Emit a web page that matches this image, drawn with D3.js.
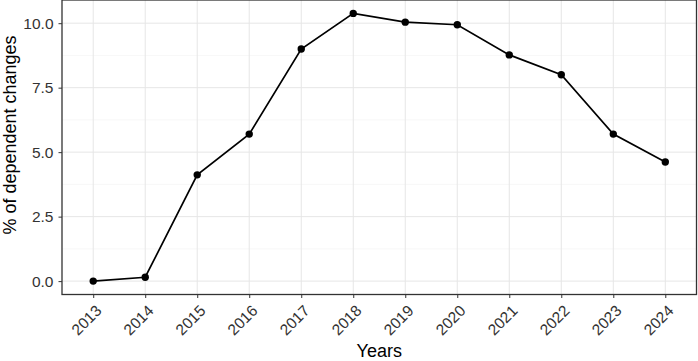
<!DOCTYPE html>
<html>
<head>
<meta charset="utf-8">
<script src="https://cdn.jsdelivr.net/npm/d3@7"></script>
<style>
  body { margin: 0; background: #fff; }
  svg { display: block; font-family: "Liberation Sans", Arial, sans-serif; }
</style>
</head>
<body>
<div id="chart"></div>
<script>
const years = ["2013", "2014", "2015", "2016", "2017", "2018", "2019", "2020", "2021", "2022", "2023", "2024"];
const pctDependent = [0, 0.15, 4.12, 5.7, 9.0, 10.38, 10.04, 9.94, 8.77, 8.0, 5.7, 4.62];
const yTicks = [0, 2.5, 5, 7.5, 10];
const yMinorTicks = [1.25, 3.75, 6.25, 8.75];

const width = 698;
const height = 361;
const margin = { top: 0, right: 1.5, bottom: 66.5, left: 62 };
const plotW = width - margin.left - margin.right;
const plotH = height - margin.top - margin.bottom;

const data = years.map((y, i) => ({ year: y, value: pctDependent[i] }));

const svg = d3.select("#chart")
  .append("svg")
  .attr("width", width)
  .attr("height", height);

const g = svg.append("g")
  .attr("transform", `translate(${margin.left},${margin.top})`);

// discrete x with 0.6 unit padding on each side, like ggplot
const x = d3.scalePoint()
  .domain(years)
  .range([0, plotW])
  .padding(0.6);

const maxV = d3.max(pctDependent);
const pad = maxV * 0.05;
const y = d3.scaleLinear()
  .domain([-pad, maxV + pad])
  .range([plotH, 0]);

// grid
g.append("g")
  .selectAll("line")
  .data(yMinorTicks)
  .join("line")
  .attr("x1", 0).attr("x2", plotW)
  .attr("y1", (d) => y(d)).attr("y2", (d) => y(d))
  .attr("stroke", "#f2f2f2")
  .attr("stroke-width", 0.6);

g.append("g")
  .selectAll("line")
  .data(yTicks)
  .join("line")
  .attr("x1", 0).attr("x2", plotW)
  .attr("y1", (d) => y(d)).attr("y2", (d) => y(d))
  .attr("stroke", "#e6e6e6")
  .attr("stroke-width", 1);

g.append("g")
  .selectAll("line")
  .data(years)
  .join("line")
  .attr("x1", (d) => x(d)).attr("x2", (d) => x(d))
  .attr("y1", 0).attr("y2", plotH)
  .attr("stroke", "#e6e6e6")
  .attr("stroke-width", 1);

// line + points
const line = d3.line()
  .x((d) => x(d.year))
  .y((d) => y(d.value));

g.append("path")
  .datum(data)
  .attr("fill", "none")
  .attr("stroke", "#000")
  .attr("stroke-width", 1.7)
  .attr("d", line);

g.selectAll(".pt")
  .data(data)
  .join("circle")
  .attr("class", "pt")
  .attr("cx", (d) => x(d.year))
  .attr("cy", (d) => y(d.value))
  .attr("r", 3.7)
  .attr("fill", "#000");

// panel border
g.append("rect")
  .attr("x", 0).attr("y", 0)
  .attr("width", plotW).attr("height", plotH)
  .attr("fill", "none")
  .attr("stroke", "#333")
  .attr("stroke-width", 1.3);

// axes
const yAxis = g.append("g")
  .call(d3.axisLeft(y).tickValues(yTicks).tickFormat(d3.format(".1f")).tickSize(3.5).tickPadding(5))
  .call((a) => a.select(".domain").remove());
yAxis.selectAll("line").attr("stroke", "#333").attr("stroke-width", 1);
yAxis.selectAll("text")
  .attr("fill", "#333")
  .style("font-size", "15.5px")
  .style("font-family", "Liberation Sans, Arial, sans-serif");

const xAxis = g.append("g")
  .attr("transform", `translate(0,${plotH})`)
  .call(d3.axisBottom(x).tickSize(3.5))
  .call((a) => a.select(".domain").remove());
xAxis.selectAll("line").attr("stroke", "#333").attr("stroke-width", 1);
xAxis.selectAll("text")
  .attr("fill", "#333")
  .style("font-size", "15.5px")
  .style("font-family", "Liberation Sans, Arial, sans-serif")
  .attr("text-anchor", "end")
  .attr("dy", "0.8em")
  .attr("y", 0)
  .attr("transform", "translate(0,8.5) rotate(-45)");

// axis titles
svg.append("text")
  .attr("x", margin.left + plotW / 2)
  .attr("y", 357)
  .attr("text-anchor", "middle")
  .style("font-size", "18px")
  .attr("fill", "#000")
  .text("Years");

svg.append("text")
  .attr("transform", "translate(16,135) rotate(-90)")
  .attr("text-anchor", "middle")
  .style("font-size", "18px")
  .attr("fill", "#000")
  .text("% of dependent changes");
</script>
</body>
</html>
